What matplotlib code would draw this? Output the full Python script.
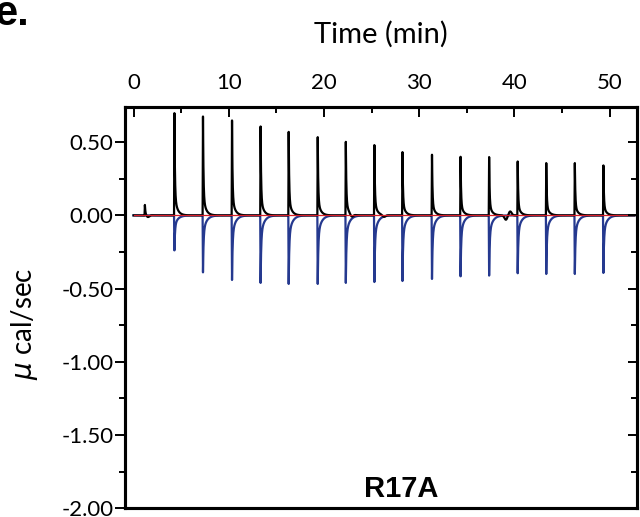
import matplotlib.pyplot as plt
import numpy as np
from matplotlib.ticker import MultipleLocator, FormatStrFormatter

plt.rcParams['font.family'] = ['Lato', 'DejaVu Sans']
plt.rcParams['axes.unicode_minus'] = False

# injection times (min) and peak heights (ucal/sec)
inj_times = [4.25, 7.25, 10.3, 13.3, 16.25, 19.3, 22.25, 25.25, 28.2, 31.3,
             34.3, 37.3, 40.3, 43.3, 46.3, 49.3]
sample_peaks = [0.698, 0.675, 0.648, 0.607, 0.570, 0.534, 0.502, 0.480, 0.432,
                0.414, 0.400, 0.398, 0.368, 0.357, 0.357, 0.341]
control_peaks = [-0.239, -0.389, -0.441, -0.461, -0.468, -0.468, -0.461, -0.455,
                 -0.448, -0.434, -0.416, -0.411, -0.395, -0.400, -0.400, -0.393]
# first small injection
first_time = 1.15
first_peak = 0.073
# small wobbles of the black baseline
wobble_times = [1.5, 22.9, 26.3, 39.1, 39.55]
wobble_heights = [-0.015, -0.018, -0.012, -0.03, 0.027]
run_end = 52.6


def spike(t, t0, h, fast, slow, frac):
    dt = t - t0
    rise = 0.04
    y = np.zeros_like(t)
    up = (dt >= 0) & (dt < rise)
    y[up] = h * dt[up] / rise
    dn = dt >= rise
    d = dt[dn] - rise
    y[dn] = h * (frac * np.exp(-d / fast) + (1 - frac) * np.exp(-d / slow))
    return y


t = np.arange(0, run_end, 0.005)
black = spike(t, first_time, first_peak, 0.05, 0.3, 0.85)
blue = np.zeros_like(t)
for t0, hp, hc in zip(inj_times, sample_peaks, control_peaks):
    black += spike(t, t0, hp, 0.05, 0.28, 0.8)
    blue += spike(t, t0, hc, 0.06, 0.35, 0.7)
for tw, hw in zip(wobble_times, wobble_heights):
    black += hw * np.exp(-0.5 * ((t - tw) / 0.15) ** 2)

fig = plt.figure(figsize=(6.4, 5.17), dpi=100)
ax = fig.add_axes([125 / 640, 8.7 / 517, 512.3 / 640, 401.3 / 517])

ax.plot(t, blue, color='#25398f', lw=1.6)
ax.plot(t, black, color='black', lw=1.6)
ax.plot([0, run_end], [0, 0], color='#d8202a', lw=0.9)

ax.set_xlim(-0.9, 52.9)
ax.set_ylim(-2.0, 0.74)

for s in ax.spines.values():
    s.set_linewidth(2.2)

ax.xaxis.set_major_locator(MultipleLocator(10))
ax.xaxis.set_minor_locator(MultipleLocator(5))
ax.yaxis.set_major_locator(MultipleLocator(0.5))
ax.yaxis.set_minor_locator(MultipleLocator(0.25))
ax.yaxis.set_major_formatter(FormatStrFormatter('%.2f'))

ax.tick_params(axis='x', which='both', direction='in', top=True, bottom=False,
               labeltop=True, labelbottom=False, width=1.4, labelsize=16, pad=10)
ax.tick_params(axis='x', which='major', length=7.2)
ax.tick_params(axis='x', which='minor', length=4.3)
ax.tick_params(axis='y', which='both', direction='out', left=True, right=False,
               width=1.4, labelsize=16, pad=1)
ax.tick_params(axis='y', which='major', length=7.2)
ax.tick_params(axis='y', which='minor', length=4.3)

ax2 = ax.twinx()
ax2.set_ylim(ax.get_ylim())
ax2.yaxis.set_major_locator(MultipleLocator(0.5))
ax2.yaxis.set_minor_locator(MultipleLocator(0.25))
ax2.tick_params(axis='y', which='both', direction='in', width=1.4, labelright=False)
ax2.tick_params(axis='y', which='major', length=6.5)
ax2.tick_params(axis='y', which='minor', length=4.3)
for s in ax2.spines.values():
    s.set_linewidth(2.2)

ax.xaxis.set_label_position('top')
ax.set_xlabel('Time (min)', fontsize=21, labelpad=22)
ax.set_ylabel(r'$\mu$ cal/sec', fontsize=20)
ax.yaxis.set_label_coords(-0.166, 0.459)

ax.text(0.539, 0.028, 'R17A', transform=ax.transAxes, ha='center', va='baseline',
        fontsize=21, fontweight='bold', family='Liberation Sans')
fig.text(-6 / 640, 1 - 25 / 517, 'e.', ha='left', va='baseline', fontsize=30,
         fontweight='bold', family='Liberation Sans')

fig.savefig('out.png', dpi=100)
